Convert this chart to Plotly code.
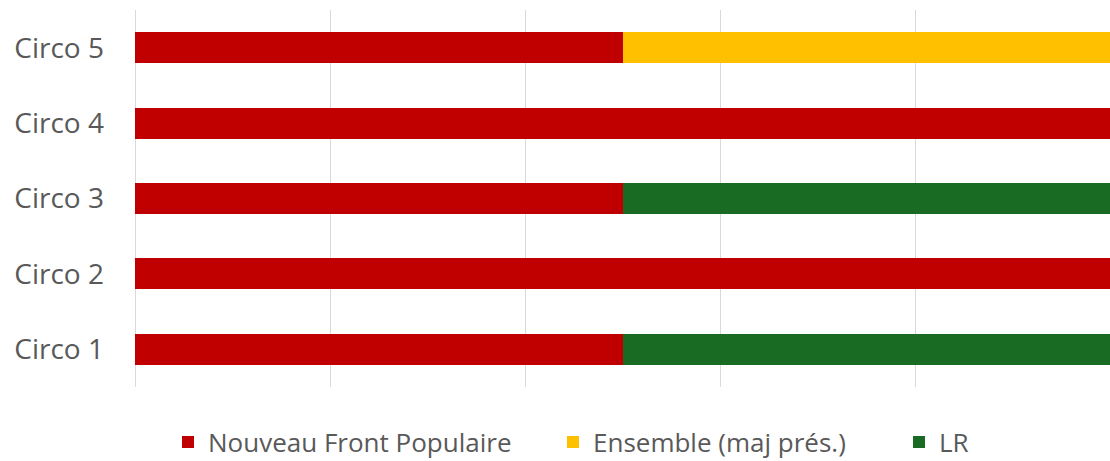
import plotly.graph_objects as go

categories = ["Circo 1", "Circo 2", "Circo 3", "Circo 4", "Circo 5"]
nfp = [0.5, 1.0, 0.5, 1.0, 0.5]
ensemble = [0.0, 0.0, 0.0, 0.0, 0.5]
lr = [0.5, 0.0, 0.5, 0.0, 0.0]

series = [
    ("Nouveau Front Populaire", nfp, "#C00000", "legend", 182),
    ("Ensemble (maj prés.)", ensemble, "#FFC000", "legend2", 567),
    ("LR", lr, "#196B24", "legend3", 913),
]

L, R, T, B = 135, 0, 10, 74
W, H = 1110, 461
pw = W - L - R
ph = H - T - B

fig = go.Figure()
legends = {}
for name, vals, color, lg, mx in series:
    fig.add_trace(go.Bar(
        y=categories, x=vals, name=name, orientation="h",
        marker=dict(color=color, line=dict(width=0)),
        legend=lg,
    ))
    legends[lg] = dict(
        orientation="h", x=(mx - 14 - L) / pw, xanchor="left",
        y=-(442 - (H - B)) / ph, yanchor="middle",
        font=dict(size=26, color="#595959"), itemwidth=30,
        bgcolor="rgba(0,0,0,0)",
    )

fig.update_layout(
    barmode="stack",
    bargap=0.59,
    width=W, height=H,
    margin=dict(l=L, r=R, t=T, b=B, autoexpand=False),
    paper_bgcolor="white", plot_bgcolor="white",
    font=dict(family="Open Sans", color="#595959"),
    xaxis=dict(range=[0, 1], dtick=0.2, showticklabels=False,
               showgrid=True, gridcolor="#D9D9D9", gridwidth=1,
               zeroline=True, zerolinecolor="#D9D9D9", zerolinewidth=1,
               fixedrange=True),
    yaxis=dict(showgrid=False, tickfont=dict(size=28, color="#595959"),
               ticklabelstandoff=30, fixedrange=True),
    showlegend=True,
    **legends,
)

fig.write_html(
    "out.html",
    config={"displayModeBar": False},
    post_script="document.body.style.margin='0px';document.body.style.overflow='hidden';",
)
